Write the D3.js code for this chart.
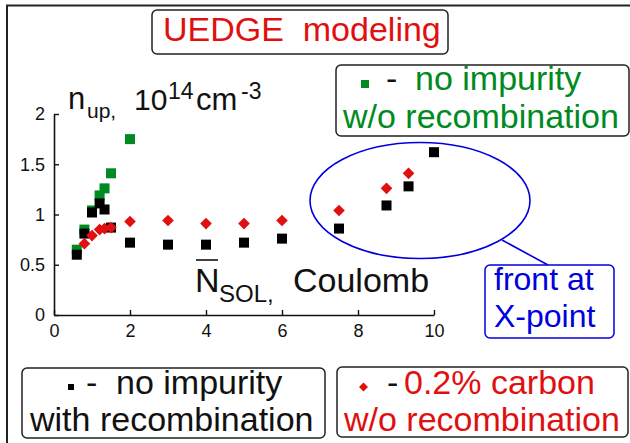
<!DOCTYPE html>
<html>
<head>
<meta charset="utf-8">
<script src="https://cdn.jsdelivr.net/npm/d3@7"></script>
<style>
  html, body { margin: 0; padding: 0; background: #fff; }
  svg text { font-family: "Liberation Sans", Arial, sans-serif; }
</style>
</head>
<body>
<svg id="chart" width="630" height="443"></svg>
<script>
// ---- data ----
const xTicks = [0, 2, 4, 6, 8, 10];
const yTicks = [0, 0.5, 1, 1.5, 2];

// no impurity, w/o recombination (green)
const xGreen = [0.6, 0.8, 1.0, 1.2, 1.33, 1.5, 2.0];
const yGreen = [0.65, 0.85, 1.04, 1.19, 1.26, 1.41, 1.75];

// no impurity, with recombination (black)
const xBlack = [0.6, 0.8, 1.0, 1.2, 1.33, 1.5, 2, 3, 4, 5, 6, 7.5, 8.75, 9.33, 10];
const yBlack = [0.60, 0.81, 1.02, 1.11, 1.05, 0.87, 0.72, 0.70, 0.70, 0.72, 0.76, 0.86, 1.09, 1.28, 1.62];

// 0.2% carbon, w/o recombination (red)
const xRed = [0.8, 1.0, 1.2, 1.33, 1.5, 2, 3, 4, 5, 6, 7.5, 8.75, 9.33];
const yRed = [0.71, 0.79, 0.85, 0.86, 0.87, 0.93, 0.94, 0.91, 0.91, 0.94, 1.04, 1.26, 1.41];

const title = "UEDGE  modeling";
const legendGreen = ["no impurity", "w/o recombination"];
const legendBlack = ["no impurity", "with recombination"];
const legendRed = ["0.2% carbon", "w/o recombination"];
const noteText = ["front at", "X-point"];

// ---- colours ----
const RED = "#e01010", GREEN = "#008a22", BLUE = "#0000dd", INK = "#111";
const FONT = '"Liberation Sans", Arial, sans-serif';

const svg = d3.select("#chart");
svg.append("rect").attr("width", 630).attr("height", 443).attr("fill", "#fff");

// outer frame (left + top)
svg.append("path").attr("d", "M7,443V5.5H630").attr("fill", "none")
  .attr("stroke", "#222").attr("stroke-width", 2);

const x = d3.scaleLinear().domain([0, 10]).range([54, 434]);
const y = d3.scaleLinear().domain([0, 2]).range([315, 114]);

// axes
const gx = svg.append("g").attr("transform", `translate(0,${y(0)})`)
  .call(d3.axisBottom(x).tickValues(xTicks).tickSizeInner(-5).tickSizeOuter(0).tickPadding(9).tickFormat(d3.format("")));
const gy = svg.append("g").attr("transform", `translate(${x(0)},0)`)
  .call(d3.axisLeft(y).tickValues(yTicks).tickSizeInner(-5).tickSizeOuter(0).tickPadding(9).tickFormat(d3.format("")));
[gx, gy].forEach(g => {
  g.attr("font-family", FONT);
  g.select(".domain").attr("stroke", INK).attr("stroke-width", 1.6);
  g.selectAll(".tick line").attr("stroke", INK).attr("stroke-width", 1.4);
  g.selectAll(".tick text").attr("fill", INK).attr("font-size", 18);
});

// data markers
const zip = (xs, ys) => xs.map((v, i) => [v, ys[i]]);
const sq = 10;
svg.append("g").selectAll("rect").data(zip(xGreen, yGreen)).join("rect")
  .attr("x", d => x(d[0]) - sq / 2).attr("y", d => y(d[1]) - sq / 2)
  .attr("width", sq).attr("height", sq).attr("fill", GREEN);
svg.append("g").selectAll("rect").data(zip(xBlack, yBlack)).join("rect")
  .attr("x", d => x(d[0]) - sq / 2).attr("y", d => y(d[1]) - sq / 2)
  .attr("width", sq).attr("height", sq).attr("fill", "#000");
const diamond = d3.symbol().type(d3.symbolSquare).size(68);
svg.append("g").selectAll("path").data(zip(xRed, yRed)).join("path")
  .attr("d", diamond)
  .attr("transform", d => `translate(${x(d[0])},${y(d[1])}) rotate(45)`)
  .attr("fill", RED);

function txt(x0, y0, size, fill, s) {
  return svg.append("text").attr("x", x0).attr("y", y0).attr("font-size", size)
    .attr("font-family", FONT).attr("fill", fill).text(s);
}

// y-axis title: n_up, 10^14 cm^-3
const yt = svg.append("text").attr("font-family", FONT).attr("fill", INK);
yt.append("tspan").attr("x", 68).attr("y", 109).attr("font-size", 31).text("n");
yt.append("tspan").attr("x", 87).attr("y", 118).attr("font-size", 21).text("up,");
yt.append("tspan").attr("x", 134).attr("y", 110).attr("font-size", 30).text("10");
yt.append("tspan").attr("x", 168).attr("y", 99).attr("font-size", 23).text("14");
yt.append("tspan").attr("x", 196).attr("y", 110).attr("font-size", 31).text("cm");
yt.append("tspan").attr("x", 241).attr("y", 99).attr("font-size", 23).text("-3");

// x-axis title: N̄_SOL, Coulomb
const xt = svg.append("text").attr("font-family", FONT).attr("fill", INK);
xt.append("tspan").attr("x", 195).attr("y", 292).attr("font-size", 34).text("N");
xt.append("tspan").attr("x", 219).attr("y", 302).attr("font-size", 24).text("SOL,");
xt.append("tspan").attr("x", 293).attr("y", 292).attr("font-size", 34).text("Coulomb");
svg.append("line").attr("x1", 196).attr("x2", 218).attr("y1", 260).attr("y2", 260)
  .attr("stroke", INK).attr("stroke-width", 1.6);

// helper for boxes
function box(x0, y0, w, h, stroke) {
  svg.append("rect").attr("x", x0).attr("y", y0).attr("width", w).attr("height", h)
    .attr("rx", 5).attr("fill", "#fff").attr("stroke", stroke).attr("stroke-width", 1.5);
}

// title box
box(152, 10, 296, 44, "#222");
txt(163, 41, 34, RED, title).attr("xml:space", "preserve").style("white-space", "pre");

// green legend box
box(336, 65, 293, 71, "#222");
svg.append("rect").attr("x", 361).attr("y", 80).attr("width", 8).attr("height", 8).attr("fill", GREEN);
txt(386, 90, 34, INK, "-");
txt(415, 90, 34, GREEN, legendGreen[0]);
txt(343, 128, 34, GREEN, legendGreen[1]);

// blue ellipse annotation
svg.append("ellipse").attr("cx", 420).attr("cy", 200.5).attr("rx", 110).attr("ry", 58)
  .attr("fill", "none").attr("stroke", BLUE).attr("stroke-width", 1.6);
svg.append("line").attr("x1", 502).attr("y1", 240).attr("x2", 548).attr("y2", 265)
  .attr("stroke", BLUE).attr("stroke-width", 1.6);
box(485, 265, 129, 73, BLUE);
txt(494, 290, 32, BLUE, noteText[0]);
txt(494, 327, 32, BLUE, noteText[1]);

// bottom-left legend box
box(22, 368, 303, 70, "#222");
svg.append("rect").attr("x", 68).attr("y", 384).attr("width", 6).attr("height", 6).attr("fill", "#000");
txt(86, 394, 34, INK, "-");
txt(116, 394, 34, INK, legendBlack[0]);
txt(30, 431, 34, INK, legendBlack[1]);

// bottom-right legend box
box(337, 367, 291, 70, "#222");
svg.append("path").attr("d", d3.symbol().type(d3.symbolSquare).size(40))
  .attr("transform", "translate(363.5,387) rotate(45)").attr("fill", RED);
txt(387, 394, 34, INK, "-");
txt(404, 394, 34, RED, legendRed[0]);
txt(344, 431, 34, RED, legendRed[1]);
</script>
</body>
</html>
